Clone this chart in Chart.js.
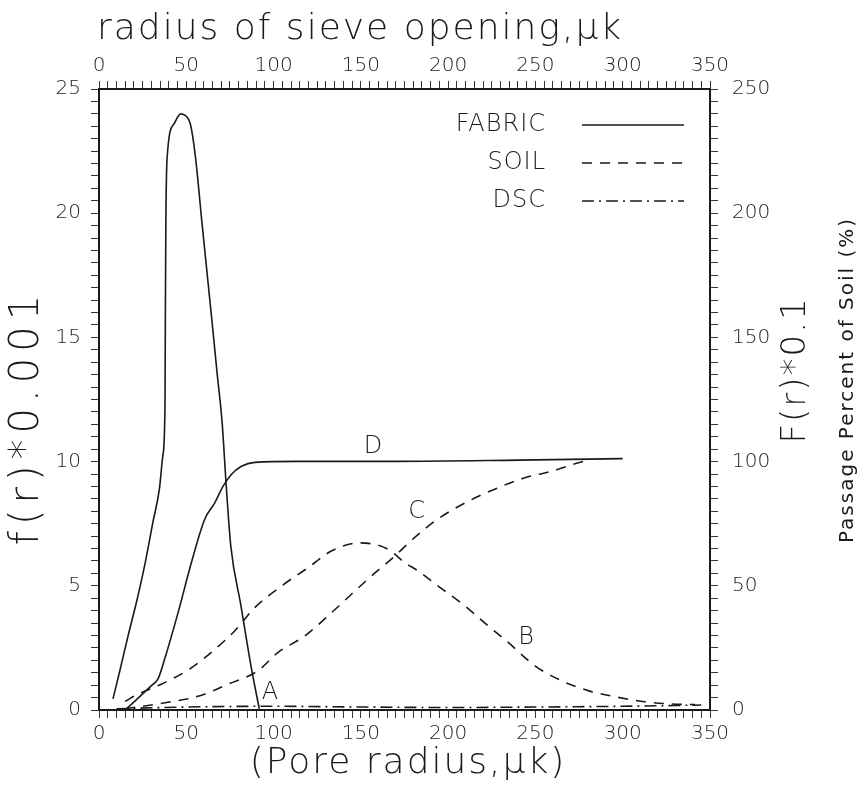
<!DOCTYPE html>
<html>
<head>
<meta charset="utf-8">
<script src="https://cdn.jsdelivr.net/npm/chart.js@4.4.1/dist/chart.umd.min.js"></script>
<style>
  html, body { margin: 0; padding: 0; background: #fff; }
  #wrap { width: 862px; height: 786px; }
</style>
</head>
<body>
<div id="wrap"><canvas id="chart"></canvas></div>
<script>
// pore radius (uk) and values
// A: fabric density f(r)*0.001 (left axis)
const fabricDensityR = [8, 12, 16.6, 22, 26.4, 31, 34.6, 36.5, 37.8, 38, 38.3, 39, 43, 46.8, 50, 52.3, 55.2, 59, 61.9, 64.8, 67.6, 70.5, 73, 75.5, 81.3, 87, 91.8];
const fabricDensity  = [0.45, 1.6, 2.97, 4.5, 5.9, 7.6, 8.9, 10.2, 12.2, 15.6, 19.6, 22.2, 23.6, 24.0, 23.9, 23.6, 22.3, 19.6, 17.6, 15.6, 13.6, 11.6, 8.9, 6.6, 4.2, 1.8, 0.05];

// B: soil density f(r)*0.001 (left axis)
const soilDensityR = [15, 22.3, 35.7, 52, 65.3, 77.7, 89.2, 104.5, 119.8, 133.1, 149.4, 165.6, 175.2, 182.8, 194.3, 209.6, 222.9, 234.4, 249.7, 264.9, 280.2, 297.4, 312.7, 328, 341.4];
const soilDensity  = [0.35, 0.64, 1.04, 1.65, 2.38, 3.18, 4.12, 4.99, 5.73, 6.4, 6.73, 6.47, 5.93, 5.6, 4.99, 4.19, 3.39, 2.72, 1.78, 1.18, 0.78, 0.51, 0.33, 0.24, 0.22];

// C: soil passage F(r)*0.1, percent (right axis)
const soilPassageR = [15, 39.5, 56.7, 73.9, 91.1, 102.6, 117.9, 131.2, 144.6, 156, 169.5, 180.9, 194.3, 211.5, 228.7, 244, 259.2, 274.5, 281.2];
const soilPassage  = [0.5, 3.1, 5.5, 10.4, 15.8, 23.2, 29.8, 37.9, 46.6, 53.9, 62, 69.5, 77, 84, 89.5, 93.5, 96.1, 99.5, 100.8];

// D: fabric passage F(r)*0.1, percent (right axis)
const fabricPassageR = [15.6, 30, 33.8, 37.6, 45.3, 52.9, 60.5, 66.3, 71.1, 75.8, 81.6, 89.2, 114, 171, 240, 300];
const fabricPassage  = [0.4, 9.8, 12.5, 20.5, 39.2, 59.3, 76.7, 83.4, 90.1, 94.8, 98.1, 99.7, 100.1, 100.1, 100.6, 101.2];

// DSC: lies almost on the r axis (left axis)
const dscR = [10, 50, 100, 150, 200, 250, 300, 345];
const dsc  = [0.05, 0.12, 0.15, 0.12, 0.1, 0.12, 0.15, 0.2];

// curve letters at (r, f(r)*0.001)
const curveLetters = ['A', 'B', 'C', 'D'];
const letterR = [98, 244.7, 182, 157];
const letterF = [0.68, 2.9, 8.0, 10.6];

const legendNames = ['FABRIC', 'SOIL', 'DSC'];
const legendDashes = [[], [10, 8], [12, 5, 2, 5]];

const toPoints = (xs, ys) => xs.map((x, i) => ({x: x, y: ys[i]}));

const FONT = "'DejaVu Sans', 'Liberation Sans', sans-serif";
const INK = '#1a1a1a';

// text helper: rotated, letter spaced
function drawText(ctx, text, x, y, font, spacing, rot, align) {
    ctx.save();
    ctx.translate(x, y);
    if (rot) ctx.rotate(rot);
    ctx.font = font;
    ctx.letterSpacing = spacing + 'px';
    ctx.textAlign = align || 'center';
    ctx.textBaseline = 'middle';
    ctx.fillText(text, 0, 0);
    ctx.restore();
}

const labelsPlugin = {
    id: 'labels',
    afterDatasetsDraw(chart) {
        const ctx = chart.ctx;
        const xs = chart.scales.x, ys = chart.scales.y;
        ctx.save();
        ctx.fillStyle = INK;
        curveLetters.forEach((t, i) => {
            drawText(ctx, t, xs.getPixelForValue(letterR[i]), ys.getPixelForValue(letterF[i]),
                     '200 24px ' + FONT, 0);
        });

        // legend inside the plot, text on the left, line sample on the right
        ctx.strokeStyle = INK;
        ctx.lineWidth = 1.5;
        legendNames.forEach((name, i) => {
            const y = 125 + i * 38;
            drawText(ctx, name, 546, y, '200 24px ' + FONT, 1, 0, 'right');
            ctx.setLineDash(legendDashes[i]);
            ctx.beginPath();
            ctx.moveTo(582, y);
            ctx.lineTo(684, y);
            ctx.stroke();
        });
        ctx.setLineDash([]);

        // axis titles
        drawText(ctx, 'radius of sieve opening,μk', 97, 30, '200 36px ' + FONT, 2, 0, 'left');
        drawText(ctx, '(Pore radius,μk)', 408, 764, '200 36px ' + FONT, 2);
        drawText(ctx, 'f(r)*0.001', 28, 417, '200 40px ' + FONT, 6, -Math.PI / 2);
        drawText(ctx, 'F(r)*0.1', 796, 370, '200 34px ' + FONT, 2, -Math.PI / 2);
        drawText(ctx, 'Passage Percent of Soil (%)', 848, 380, '20px ' + FONT, 2, -Math.PI / 2);
        ctx.restore();
    }
};

function axisTicks(step, every, pad) {
    return {
        stepSize: step,
        autoSkip: false,
        maxRotation: 0,
        padding: pad,
        color: '#222',
        font: {family: FONT, size: 20, weight: '200'},
        callback: v => (Math.abs(v % every) < 1e-9 ? v : '')
    };
}

const grid = {drawOnChartArea: false, drawTicks: true, tickLength: 8, color: '#333', lineWidth: 1};
const border = {display: true, color: INK, width: 2};

new Chart(document.getElementById('chart'), {
    type: 'scatter',
    data: {
        datasets: [
            {label: 'A', data: toPoints(fabricDensityR, fabricDensity), xAxisID: 'x', yAxisID: 'y'},
            {label: 'B', data: toPoints(soilDensityR, soilDensity), xAxisID: 'x', yAxisID: 'y', borderDash: [10, 8]},
            {label: 'C', data: toPoints(soilPassageR, soilPassage), xAxisID: 'x', yAxisID: 'y2', borderDash: [10, 8]},
            {label: 'D', data: toPoints(fabricPassageR, fabricPassage), xAxisID: 'x', yAxisID: 'y2'},
            {label: 'DSC', data: toPoints(dscR, dsc), xAxisID: 'x', yAxisID: 'y', borderDash: [12, 5, 2, 5]}
        ]
    },
    options: {
        responsive: true,
        maintainAspectRatio: false,
        animation: false,
        devicePixelRatio: 1,
        layout: {padding: 0},
        showLine: true,
        elements: {
            point: {radius: 0, hoverRadius: 0},
            line: {borderColor: INK, borderWidth: 1.6, cubicInterpolationMode: 'monotone', fill: false}
        },
        plugins: {legend: {display: false}, tooltip: {enabled: false}},
        scales: {
            x: {
                type: 'linear', position: 'bottom', min: 0, max: 350,
                ticks: axisTicks(5, 50, 4),
                grid: grid, border: border,
                afterFit: s => { s.height = 76; }
            },
            x2: {
                type: 'linear', position: 'top', min: 0, max: 350,
                ticks: axisTicks(5, 50, 3),
                grid: grid, border: border,
                afterFit: s => { s.height = 89; }
            },
            y: {
                type: 'linear', position: 'left', min: 0, max: 25,
                ticks: axisTicks(0.5, 5, 10),
                grid: grid, border: border,
                afterFit: s => { s.width = 99; }
            },
            y2: {
                type: 'linear', position: 'right', min: 0, max: 250,
                ticks: axisTicks(5, 50, 14),
                grid: grid, border: border,
                afterFit: s => { s.width = 152; }
            }
        }
    },
    plugins: [labelsPlugin]
});
</script>
</body>
</html>
